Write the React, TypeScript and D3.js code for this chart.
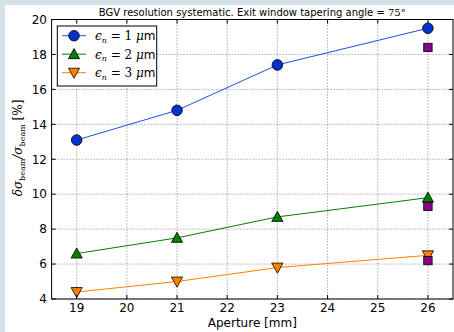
import React from "react";
import * as d3 from "d3";

const apertures = [19, 21, 23, 26];
const eps1 = [13.1, 14.8, 17.4, 19.5];
const eps2 = [6.6, 7.5, 8.7, 9.8];
const eps3 = [4.4, 5.0, 5.8, 6.5];
const extraX = [26, 26, 26];
const extraY = [18.4, 9.3, 6.2];
const xTicks = [19, 20, 21, 22, 23, 24, 25, 26];
const yTicks = [4, 6, 8, 10, 12, 14, 16, 18, 20];
const seriesNames = ["1", "2", "3"];

const W = 454, H = 332;
const left = 51.6, right = 453, top = 19.5, bottom = 299;

export default function App() {
  const x = d3.scaleLinear().domain([18.5, 26.5]).range([left, right]);
  const y = d3.scaleLinear().domain([4, 20]).range([bottom, top]);
  const line = d3.line<number>().x((_, i) => x(apertures[i])).y((d) => y(d));

  const series = [
    { data: eps1, color: "#1f4fe0", fill: "#0033cc", marker: "circle" },
    { data: eps2, color: "#008000", fill: "#008000", marker: "up" },
    { data: eps3, color: "#ff8000", fill: "#ff8000", marker: "down" },
  ];

  const marker = (type: string, cx: number, cy: number, fill: string, key: any) => {
    if (type === "circle")
      return <circle key={key} cx={cx} cy={cy} r={5.3} fill={fill} stroke="#000" strokeWidth={0.8} />;
    const s = 5.6;
    if (type === "up") {
      const p = `${cx},${cy - s} ${cx + s},${cy + s * 0.8} ${cx - s},${cy + s * 0.8}`;
      return <polygon key={key} points={p} fill={fill} stroke="#000" strokeWidth={0.8} />;
    }
    const p = `${cx},${cy + s} ${cx + s},${cy - s * 0.8} ${cx - s},${cy - s * 0.8}`;
    return <polygon key={key} points={p} fill={fill} stroke="#000" strokeWidth={0.8} />;
  };

  const tickFont = { fontFamily: "DejaVu Sans", fontSize: 12, fill: "#000" };
  const mathFont = "DejaVu Serif";

  return (
    <svg width={W} height={H} style={{ position: "absolute", left: 0, top: 0 }}>
      <rect x={0} y={0} width={W} height={H} fill="#d5e1e7" />
      <rect x={5} y={5} width={W - 5} height={H - 5} fill="#fff" />
      {/* grid */}
      {xTicks.map((t) => (
        <line key={"gx" + t} x1={x(t)} x2={x(t)} y1={top} y2={bottom} stroke="#000" strokeWidth={0.5} strokeDasharray="1,2" />
      ))}
      {yTicks.map((t) => (
        <line key={"gy" + t} x1={left} x2={right} y1={y(t)} y2={y(t)} stroke="#000" strokeWidth={0.5} strokeDasharray="1,2" />
      ))}
      {/* lines */}
      {series.map((s, i) => (
        <path key={"l" + i} d={line(s.data) || ""} fill="none" stroke={s.color} strokeWidth={1} />
      ))}
      {series.map((s, i) => s.data.map((v, j) => marker(s.marker, x(apertures[j]), y(v), s.fill, `m${i}-${j}`)))}
      {extraY.map((v, i) => (
        <rect key={"sq" + i} x={x(extraX[i]) - 4.2} y={y(v) - 4.2} width={8.4} height={8.4} fill="#880088" stroke="#000" strokeWidth={0.8} />
      ))}
      {/* frame */}
      <rect x={left} y={top} width={right - left} height={bottom - top} fill="none" stroke="#000" strokeWidth={1} />
      {/* ticks */}
      {xTicks.map((t) => (
        <g key={"tx" + t}>
          <line x1={x(t)} x2={x(t)} y1={bottom} y2={bottom - 4} stroke="#000" />
          <line x1={x(t)} x2={x(t)} y1={top} y2={top + 4} stroke="#000" />
          <text x={x(t)} y={312} textAnchor="middle" {...tickFont}>{t}</text>
        </g>
      ))}
      {yTicks.map((t) => (
        <g key={"ty" + t}>
          <line x1={left} x2={left + 4} y1={y(t)} y2={y(t)} stroke="#000" />
          <line x1={right} x2={right - 4} y1={y(t)} y2={y(t)} stroke="#000" />
          <text x={47} y={y(t) + 4.3} textAnchor="end" {...tickFont}>{t}</text>
        </g>
      ))}
      {/* title */}
      <text x={(left + right) / 2} y={16} textAnchor="middle" fontFamily="DejaVu Sans" fontSize={10}>
        BGV resolution systematic. Exit window tapering angle = <tspan fontFamily={mathFont}>75°</tspan>
      </text>
      {/* x label */}
      <text x={(left + right) / 2} y={327} textAnchor="middle" fontFamily="DejaVu Sans" fontSize={12}>Aperture [mm]</text>
      {/* y label */}
      <text transform={`translate(22,148) rotate(-90)`} textAnchor="middle" fontFamily={mathFont} fontSize={12}>
        <tspan fontStyle="italic">δσ</tspan>
        <tspan fontSize={8} dy={3}>beam</tspan>
        <tspan dy={-3} fontStyle="italic">/σ</tspan>
        <tspan fontSize={8} dy={3}>beam</tspan>
        <tspan dy={-3}> [%]</tspan>
      </text>
      {/* legend */}
      <rect x={57.3} y={26} width={99.4} height={60} fill="#fff" stroke="#000" strokeWidth={1} />
      {series.map((s, i) => {
        const ly = 35.7 + i * 18.5;
        return (
          <g key={"lg" + i}>
            <line x1={62} x2={86} y1={ly} y2={ly} stroke={s.color} strokeWidth={1} />
            {marker(s.marker, 74, ly, s.fill, "lm" + i)}
            <text x={95} y={ly + 4.5} fontFamily={mathFont} fontSize={12}>
              <tspan fontStyle="italic">ϵ</tspan>
              <tspan fontStyle="italic" fontSize={8} dy={2.5}>n</tspan>
              <tspan dy={-2.5}> = {seriesNames[i]} </tspan>
              <tspan fontStyle="italic">μ</tspan>
              <tspan fontFamily="DejaVu Sans">m</tspan>
            </text>
          </g>
        );
      })}
    </svg>
  );
}
